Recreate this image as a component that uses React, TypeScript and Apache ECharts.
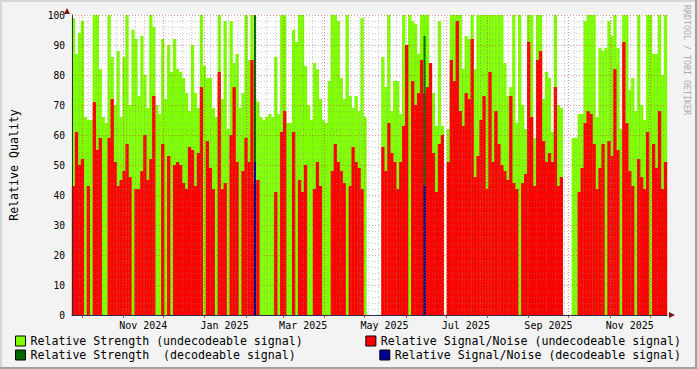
import React, { useEffect, useRef } from 'react';
import * as echarts from 'echarts';

// ---- time frame of the graph ----
const DAY = 86400000;
const START = new Date(2024, 8, 23, 13, 0).getTime();
const SPAN_DAYS = 446.4;
const END = START + SPAN_DAYS * DAY;
const SAMPLE_COUNT = 200;
const STEP = (END - START) / SAMPLE_COUNT;

// ---- series values (one value per consolidated sample, null = no data) ----
const STRENGTH_UNDEC: (number | null)[] = [
  99, 87, 94, 98, 66, 65, 65, 100, 100, 82, 66, 64, 100, 86, 70, 88, 66, 86, 100, 70, 95, 92, 73, 93, 80, 69, 100, 96, 70, 67, 92, 72, 90, 81,
  92, 82, 81, 79, 74, 68, 90, 74, 69, 100, 83, 79, 79, 69, 66, 100, 72, 98, 62, 98, 84, 87, 69, 74, 100, 85, 100, 72, 71, 66, 65, 66, 67,
  66, 86, 67, 100, 100, 64, 64, 95, 91, 100, 100, 83, 70, 65, 84, 82, 72, 65, 64, 78, 100, 100, 98, 79, 72, 100, 73, 69, 73, 68, 99, 66, null,
  null, null, null, null, 86, 76, 100, 68, 78, 78, 67, 100, 64, 100, 98, 97, 87, 100, 100, 100, 81, 74, 63, 98, 63, null, 62, 100, 100, 100, 100, 82, 93, 92,
  100, 82, 100, 100, 100, 100, 100, 100, 100, 100, 100, 84, 73, 76, 100, 64, 100, 70, 62, 100, 100, 59, 100, 100, 72, 81, 79, 61, 100, 70, 69, null, null,
  null, 59, 59, 67, 67, 98, 100, 100, 100, 66, 89, 88, 89, 98, 93, 100, 89, 62, 100, 100, 75, 79, 68, 100, 70, 65, 100, 100, 87, 87, 100, 80, 100,
];

const SN_UNDEC: (number | null)[] = [
  43, 61, 50, 52, 0, 43, 0, 71, 55, 59, 0, 0, 59, 72, 51, 43, 45, 48, 57, 46, 0, 42, 42, 48, 60, 45, 52, 73, 0, 0, 57, 0, 53, 0,
  50, 51, 50, 44, 42, 56, 55, 43, 54, 76, 0, 58, 49, 42, 0, 81, 42, 44, 0, 60, 76, 51, 0, 48, 59, 51, 85, 44, 45, 0, 0, 0, 0,
  0, 41, 0, 61, 68, 0, 0, 61, 0, 45, 41, 50, 0, 0, 42, 51, 43, 0, 0, 0, 48, 57, 51, 48, 44, 0, 43, 56, 51, 49, 42, 0, null,
  null, null, null, null, 56, 48, 64, 54, 51, 42, 51, 63, 90, 0, 78, 70, 74, 85, 74, 76, 84, 54, 41, 57, 60, null, 51, 85, 78, 98, 68, 63, 74, 72,
  92, 46, 53, 65, 73, 42, 81, 51, 68, 57, 50, 48, 45, 73, 44, 42, 0, 44, 47, 91, 66, 43, 85, 88, 58, 51, 54, 51, 76, 43, 46, null, null,
  null, 0, 0, 41, 49, 64, 68, 67, 57, 42, 49, 57, 0, 58, 53, 82, 55, 0, 91, 64, 48, 43, 0, 52, 46, 42, 61, 0, 57, 49, 68, 42, 51,
];

// decodeable samples: [sample index, value]
const STRENGTH_DEC: [number, number][] = [[61, 100], [118, 93]];
const SN_DEC: [number, number][] = [[61, 51], [118, 43]];

// ---- axis labels ----
const Y_TICKS = [0, 10, 20, 30, 40, 50, 60, 70, 80, 90, 100];
const X_LABELS = ['Nov 2024', 'Jan 2025', 'Mar 2025', 'May 2025', 'Jul 2025', 'Sep 2025', 'Nov 2025'];
const X_LABEL_MONTHS: [number, number][] = [[2024, 10], [2025, 0], [2025, 2], [2025, 4], [2025, 6], [2025, 8], [2025, 10]];

const NAMES = {
  sUndec: 'Relative Strength (undecodeable signal)',
  nUndec: 'Relative Signal/Noise (undecodeable signal)',
  sDec: 'Relative Strength  (decodeable signal)',
  nDec: 'Relative Signal/Noise (decodeable signal)',
};

const FONT = "'DejaVu Sans Mono', monospace";

const sampleTime = (i: number) => START + (i + 0.5) * STEP;

function buildOption() {
  const labelTimes = X_LABEL_MONTHS.map(([y, m]) => new Date(y, m, 1).getTime() + 15 * DAY);
  const monthStarts: number[] = [];
  for (let y = 2024, m = 9; ; m++) {
    if (m > 11) { m = 0; y++; }
    const t = new Date(y, m, 1).getTime();
    if (t > END) break;
    if (t > START) monthStarts.push(t);
  }
  const weeks: number[] = [];
  for (let d = new Date(2024, 8, 29); d.getTime() < END; d = new Date(d.getFullYear(), d.getMonth(), d.getDate() + 7)) {
    if (d.getDate() !== 1) weeks.push(d.getTime());
  }
  const minorLine = { color: 'rgba(140,140,140,0.42)', type: [1, 2] as number[], width: 1 };
  const majorLine = { color: 'rgba(200,60,60,0.55)', type: [1, 2] as number[], width: 1 };

  const barBase = {
    type: 'bar' as const,
    barGap: '-100%',
    barWidth: 3.3,
    silent: true,
    animation: false,
  };

  return {
    animation: false,
    backgroundColor: '#f3f3f3',
    grid: { left: 67, right: 30, top: 15, bottom: 54, containLabel: false, show: true, backgroundColor: '#ffffff', borderWidth: 0 },
    xAxis: [
      {
        type: 'value',
        min: START,
        max: END,
        z: 10,
        axisLine: { show: true, lineStyle: { color: '#2b2b50', width: 1 } },
        axisTick: { show: true, customValues: monthStarts, length: 3, lineStyle: { color: 'rgba(160,40,40,0.8)' } },
        axisLabel: {
          customValues: labelTimes,
          formatter: (v: number) => {
            const idx = labelTimes.findIndex((t) => Math.abs(t - v) < DAY);
            return idx >= 0 ? X_LABELS[idx] : '';
          },
          fontFamily: FONT,
          fontSize: 10,
          color: '#000',
          margin: 5,
        },
        splitLine: { show: false },
      },
      { type: 'value', min: START, max: END, show: false },
    ],
    yAxis: {
      type: 'value',
      min: 0,
      max: 100,
      interval: 10,
      z: 10,
      name: 'Relative Quality',
      nameLocation: 'middle',
      nameGap: 52,
      nameRotate: 90,
      nameTextStyle: { fontFamily: FONT, fontSize: 11.6, color: '#000' },
      axisLine: { show: true, lineStyle: { color: '#2b2b50', width: 1 } },
      axisTick: { show: false },
      axisLabel: {
        fontFamily: FONT,
        fontSize: 9.6,
        color: '#000',
        margin: 7,
        formatter: (v: number) => (Y_TICKS.includes(v) ? String(v) : ''),
      },
      splitLine: { show: true, lineStyle: majorLine },
      minorTick: { show: false, splitNumber: 5 },
      minorSplitLine: { show: true, lineStyle: minorLine },
    },
    legend: [
      {
        left: 15, top: 334, orient: 'vertical', padding: 0, itemGap: 0, itemWidth: 10, itemHeight: 10, icon: 'rect',
        selectedMode: false,
        itemStyle: { borderColor: '#000', borderWidth: 1 },
        textStyle: { fontFamily: FONT, fontSize: 11.6, color: '#000', lineHeight: 14 },
        data: [NAMES.sUndec, NAMES.sDec],
      },
      {
        right: 16, top: 334, padding: 0, itemWidth: 10, itemHeight: 10, icon: 'rect', selectedMode: false,
        itemStyle: { borderColor: '#000', borderWidth: 1 },
        textStyle: { fontFamily: FONT, fontSize: 11.6, color: '#000', lineHeight: 14 },
        data: [NAMES.nUndec],
      },
      {
        right: 16, top: 348, padding: 0, itemWidth: 10, itemHeight: 10, icon: 'rect', selectedMode: false,
        itemStyle: { borderColor: '#000', borderWidth: 1 },
        textStyle: { fontFamily: FONT, fontSize: 11.6, color: '#000', lineHeight: 14 },
        data: [NAMES.nDec],
      },
    ],
    series: [
      { ...barBase, name: NAMES.sUndec, itemStyle: { color: '#80ff00' }, data: STRENGTH_UNDEC.map((v, i) => [sampleTime(i), v]) },
      { ...barBase, name: NAMES.nUndec, itemStyle: { color: '#ff0000' }, data: SN_UNDEC.map((v, i) => [sampleTime(i), v]) },
      { ...barBase, barWidth: 2, xAxisIndex: 1, name: NAMES.sDec, itemStyle: { color: '#006400' }, data: STRENGTH_DEC.map(([i, v]) => [sampleTime(i), v]) },
      { ...barBase, barWidth: 2, xAxisIndex: 1, name: NAMES.nDec, itemStyle: { color: '#000099' }, data: SN_DEC.map(([i, v]) => [sampleTime(i), v]) },
      {
        type: 'line',
        name: 'grid',
        data: [],
        z: 10,
        silent: true,
        markLine: {
          silent: true,
          symbol: 'none',
          label: { show: false },
          animation: false,
          data: [
            ...weeks.map((t) => ({ xAxis: t, lineStyle: minorLine })),
            ...monthStarts.map((t) => ({ xAxis: t, lineStyle: majorLine })),
          ],
        },
      },
    ],
    graphic: [
      { type: 'rect', shape: { x: 0, y: 0, width: 697, height: 2 }, style: { fill: '#d6d6d6' }, silent: true },
      { type: 'rect', shape: { x: 0, y: 0, width: 2, height: 369 }, style: { fill: '#d6d6d6' }, silent: true },
      { type: 'rect', shape: { x: 0, y: 367, width: 697, height: 2 }, style: { fill: '#a0a0a0' }, silent: true },
      { type: 'rect', shape: { x: 695, y: 0, width: 2, height: 369 }, style: { fill: '#a0a0a0' }, silent: true },
      { type: 'polygon', shape: { points: [[67, 8], [64, 14], [70, 14]] }, style: { fill: '#7f1010' }, silent: true },
      { type: 'polygon', shape: { points: [[675, 315], [669, 312], [669, 318]] }, style: { fill: '#7f1010' }, silent: true },
      {
        type: 'text', x: 687, y: 5, rotation: -Math.PI / 2, silent: true,
        style: { text: 'RRDTOOL / TOBI OETIKER', fontFamily: FONT, fontSize: 8.3, fill: '#ababab', align: 'left', verticalAlign: 'middle' },
      },
    ],
  };
}

export default function App() {
  const ref = useRef<HTMLDivElement>(null);
  useEffect(() => {
    if (!ref.current) return;
    const chart = echarts.init(ref.current, null, { renderer: 'svg' });
    chart.setOption(buildOption() as any);
    return () => chart.dispose();
  }, []);
  return <div ref={ref} style={{ position: 'absolute', left: 0, top: 0, width: 697, height: 369 }} />;
}
